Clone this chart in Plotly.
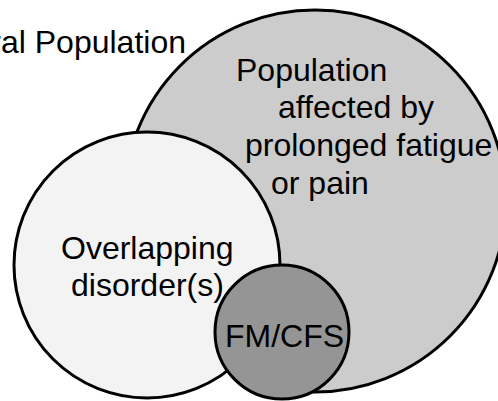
import plotly.graph_objects as go

# Circle data (pixel space of the diagram: x to the right, y downward)
circle_names = ["Population affected by prolonged fatigue or pain", "Overlapping disorder(s)", "FM/CFS"]
circle_cx = [315, 147, 282]
circle_cy = [201, 265, 332]
circle_r = [191, 133, 67]
circle_fill = ["#cccccc", "#f3f3f3", "#959595"]

# Text labels
outer_label = "General Population"
gray_lines = ["Population", "affected by", "prolonged fatigue", "or pain"]
gray_line_cx = [311, 356, 368, 320]
gray_line_base = [81, 118, 156, 194]
overlap_lines = ["Overlapping", "disorder(s)"]
overlap_base = [259, 296]

W, H = 498, 401
FONT = "Liberation Sans, Arial, Helvetica, sans-serif"
FS = 32
BASE_OFF = 11

fig = go.Figure()
fig.add_trace(go.Scatter(x=[0, W], y=[0, H], mode="markers",
                         marker=dict(opacity=0), hoverinfo="skip", showlegend=False))

for cx, cy, r, col in zip(circle_cx, circle_cy, circle_r, circle_fill):
    fig.add_shape(type="circle", xref="x", yref="y",
                  x0=cx - r, x1=cx + r, y0=cy - r, y1=cy + r,
                  fillcolor=col, line=dict(color="black", width=3), layer="above")

ann = []
ann.append(dict(x=188, y=53 - BASE_OFF, text=outer_label, xanchor="right", yanchor="middle"))
for t, x, b in zip(gray_lines, gray_line_cx, gray_line_base):
    ann.append(dict(x=x, y=b - BASE_OFF, text=t, xanchor="center", yanchor="middle"))
for t, b in zip(overlap_lines, overlap_base):
    ann.append(dict(x=circle_cx[1], y=b - BASE_OFF, text=t, xanchor="center", yanchor="middle"))
ann.append(dict(x=284, y=347 - BASE_OFF, text=circle_names[2], xanchor="center", yanchor="middle"))

for a in ann:
    a.update(xref="x", yref="y", showarrow=False, font=dict(family=FONT, size=FS, color="black"))

fig.update_layout(
    annotations=ann,
    width=W, height=H,
    margin=dict(l=0, r=0, t=0, b=0),
    paper_bgcolor="white", plot_bgcolor="white",
    xaxis=dict(range=[0, W], visible=False, fixedrange=True),
    yaxis=dict(range=[H, 0], visible=False, fixedrange=True),
    showlegend=False,
)
fig.write_html("out.html", config={"displayModeBar": False},
               post_script="document.body.style.margin='0';document.body.style.padding='0';document.body.style.overflow='hidden';")
